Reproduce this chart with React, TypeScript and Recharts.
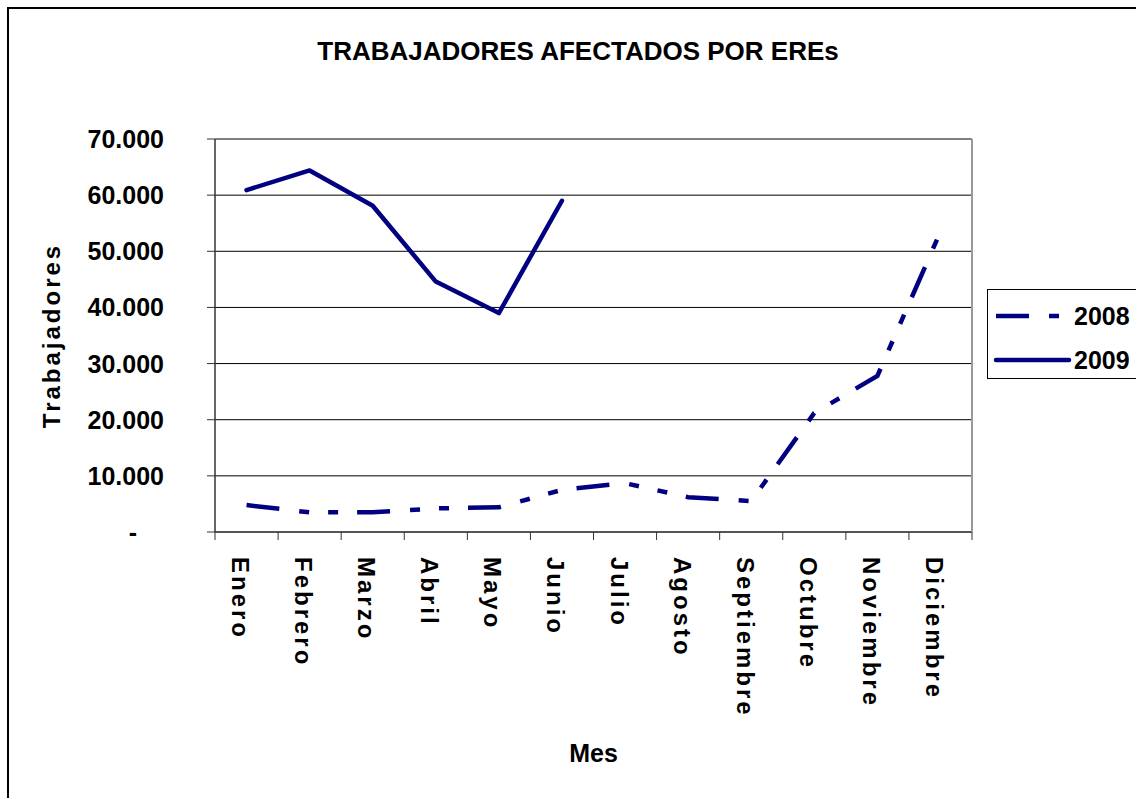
import React from 'react';
import { LineChart, Line, XAxis, YAxis, CartesianGrid, Legend } from 'recharts';

const FONT = '"Liberation Sans", Arial, Helvetica, sans-serif';
const NAVY = '#000080';

const months = ['Enero', 'Febrero', 'Marzo', 'Abril', 'Mayo', 'Junio', 'Julio', 'Agosto', 'Septiembre', 'Octubre', 'Noviembre', 'Diciembre'];
const values2008 = [4800, 3500, 3500, 4200, 4400, 7500, 8700, 6200, 5500, 21200, 27800, 53500];
const values2009: (number | null)[] = [60900, 64400, 58100, 44600, 39000, 59000, null, null, null, null, null, null];
const yTicks = [0, 10000, 20000, 30000, 40000, 50000, 60000, 70000];
const boundaryTicks = [0, 1, 2, 3, 4, 5, 6, 7, 8, 9, 10, 11, 12];

const seriesNames = ['2008', '2009'];
const seriesDash = ['33 20 10 19 10 19', undefined];

const data = months.map((m, i) => ({
  mes: m,
  pos: i + 0.5,
  '2008': values2008[i],
  '2009': values2009[i],
}));

const fmt = (v: number) => (v === 0 ? '-' : `${Math.round(v / 1000)}.000`);

const YTick = (props: any) => {
  const { x, y, payload } = props;
  const v = payload.value;
  return (
    <text
      x={v === 0 ? x - 27 : x}
      y={y}
      textAnchor="end"
      dominantBaseline="central"
      fontFamily={FONT}
      fontWeight="bold"
      fontSize={25}
      fill="#000"
    >
      {fmt(v)}
    </text>
  );
};

const XTick = (props: any) => {
  const { x, y, payload } = props;
  return (
    <g transform={`translate(${x - 6},${y + 24}) rotate(90)`}>
      <text
        x={0}
        y={0}
        textAnchor="start"
        dominantBaseline="central"
        fontFamily={FONT}
        fontWeight="bold"
        fontSize={24}
        letterSpacing={3}
        fill="#000"
      >
        {payload.value}
      </text>
    </g>
  );
};

const renderLegend = () => (
  <div
    style={{
      position: 'relative',
      width: 170,
      height: 88,
      border: '1px solid #000',
      background: '#fff',
      boxSizing: 'content-box',
    }}
  >
    {seriesNames.map((name, i) => (
      <div key={name} style={{ position: 'absolute', left: 0, top: i === 0 ? 12 : 56, height: 28, width: 170 }}>
        <svg width={84} height={28} style={{ position: 'absolute', left: 0, top: 0 }}>
          <line
            x1={8}
            y1={14}
            x2={81}
            y2={14}
            stroke={NAVY}
            strokeWidth={4.5}
            strokeDasharray={seriesDash[i]}
            strokeLinecap={seriesDash[i] ? 'butt' : 'round'}
          />
        </svg>
        <span
          style={{
            position: 'absolute',
            left: 86,
            top: 0,
            lineHeight: '28px',
            fontFamily: FONT,
            fontWeight: 'bold',
            fontSize: 25,
            color: '#000',
          }}
        >
          {name}
        </span>
      </div>
    ))}
  </div>
);

export default function App() {
  return (
    <div
      style={{
        position: 'absolute',
        left: 0,
        top: 0,
        width: 1136,
        height: 798,
        overflow: 'hidden',
        background: '#fff',
      }}
    >
      <div
        style={{
          position: 'absolute',
          left: 7,
          top: 7,
          width: 1200,
          height: 900,
          border: '2px solid #000',
        }}
      />
      <div
        style={{
          position: 'absolute',
          left: 78,
          top: 38,
          width: 1000,
          textAlign: 'center',
          fontFamily: FONT,
          fontWeight: 'bold',
          fontSize: 26,
          lineHeight: '26px',
          color: '#000',
        }}
      >
        TRABAJADORES AFECTADOS POR EREs
      </div>
      <div style={{ position: 'absolute', left: 0, top: 0 }}>
        <LineChart width={1136} height={798} data={data} margin={{ top: 139, right: 163, left: 0, bottom: 0 }}>
          <CartesianGrid xAxisId="b" vertical={false} stroke="#000" strokeWidth={1} />
          <XAxis
            xAxisId="b"
            dataKey="mes"
            type="category"
            scale="band"
            height={265}
            interval={0}
            tickSize={0}
            tickMargin={0}
            axisLine={false}
            tickLine={false}
            tick={<XTick />}
            label={{
              content: (p: any) => {
                const vb = p.viewBox;
                return (
                  <text
                    x={vb.x + vb.width / 2}
                    y={vb.y + 220}
                    textAnchor="middle"
                    dominantBaseline="central"
                    fontFamily={FONT}
                    fontWeight="bold"
                    fontSize={25}
                    fill="#000"
                  >
                    Mes
                  </text>
                );
              },
            }}
          />
          <XAxis
            xAxisId="a"
            type="number"
            dataKey="pos"
            domain={[0, 12]}
            ticks={boundaryTicks}
            allowDataOverflow
            height={1}
            tickSize={8}
            tickFormatter={() => ''}
            axisLine={{ stroke: '#555', strokeWidth: 2 }}
            tickLine={{ stroke: '#333', strokeWidth: 1 }}
          />
          <YAxis
            width={215}
            domain={[0, 70000]}
            ticks={yTicks}
            tickSize={8}
            tickMargin={43}
            tick={<YTick />}
            axisLine={{ stroke: '#333', strokeWidth: 1.5 }}
            tickLine={{ stroke: '#333', strokeWidth: 1 }}
            label={{
              content: (p: any) => {
                const vb = p.viewBox;
                const cx = vb.x + 51;
                const cy = vb.y + vb.height / 2;
                return (
                  <text
                    transform={`translate(${cx},${cy}) rotate(-90)`}
                    x={0}
                    y={0}
                    textAnchor="middle"
                    dominantBaseline="central"
                    fontFamily={FONT}
                    fontWeight="bold"
                    fontSize={24}
                    letterSpacing={3}
                    fill="#000"
                  >
                    Trabajadores
                  </text>
                );
              },
            }}
          />
          <YAxis
            yAxisId="r"
            orientation="right"
            width={1}
            domain={[0, 1]}
            tick={false}
            tickLine={false}
            axisLine={{ stroke: '#999', strokeWidth: 2 }}
          />
          <Legend
            layout="vertical"
            align="center"
            verticalAlign="middle"
            content={renderLegend}
            wrapperStyle={{ left: 987, top: 289, width: 172, height: 90 }}
          />
          <Line
            xAxisId="b"
            type="linear"
            dataKey="2008"
            stroke={NAVY}
            strokeWidth={4.5}
            strokeDasharray={seriesDash[0]}
            strokeLinecap="butt"
            dot={false}
            activeDot={false}
            isAnimationActive={false}
          />
          <Line
            xAxisId="b"
            type="linear"
            dataKey="2009"
            stroke={NAVY}
            strokeWidth={4.5}
            strokeLinejoin="round"
            strokeLinecap="round"
            dot={false}
            activeDot={false}
            connectNulls={false}
            isAnimationActive={false}
          />
        </LineChart>
      </div>
    </div>
  );
}
